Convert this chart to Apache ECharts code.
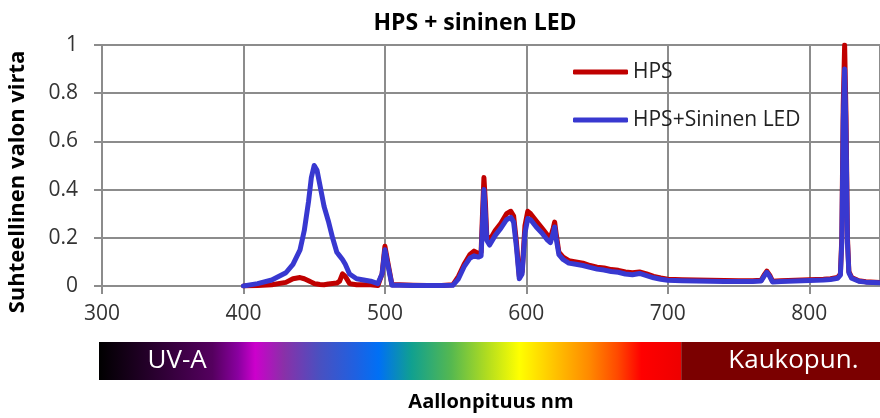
<!DOCTYPE html>
<html>
<head>
<meta charset="utf-8">
<script src="https://cdn.jsdelivr.net/npm/echarts@6/dist/echarts.min.js"></script>
<style>
  html, body { margin: 0; padding: 0; background: #fff; }
  #chart { width: 880px; height: 418px; }
</style>
</head>
<body>
<div id="chart"></div>
<script>
// Wavelengths (nm) of the sampled spectra
const wavelengths = [
  400, 410, 420, 430, 435, 440, 443, 446, 448, 450, 452, 454, 457, 460, 463, 466, 468, 470, 472, 475, 480, 485, 490, 495, 498,
  500, 502, 505, 510, 520, 530, 540, 548, 552, 556, 560, 563, 566, 568, 569, 570, 571, 572, 574, 578,
  582, 586, 589, 591, 593, 595, 597, 599, 601, 603, 607, 611, 615, 617, 619, 620, 621, 623, 626, 630,
  635, 640, 645, 650, 655, 660, 665, 670, 675, 680, 685, 690, 695, 700, 710, 720, 730, 740, 750, 760,
  766, 768, 770, 772, 774, 780, 790, 800, 810, 815, 820, 822, 823, 824, 825, 826, 827, 828, 830, 835,
  840, 850
];

// Relative photon flux, HPS lamp alone
const hps = [
  0, 0.002, 0.005, 0.015, 0.03, 0.035, 0.03, 0.022, 0.016, 0.01, 0.008, 0.006, 0.005, 0.008, 0.01, 0.012, 0.02, 0.05, 0.04, 0.01, 0.005, 0.005, 0.005, 0.002, 0.05,
  0.165, 0.1, 0.005, 0.005, 0.003, 0.002, 0.002, 0.005, 0.04, 0.09, 0.13, 0.145, 0.135, 0.14, 0.3, 0.45, 0.35, 0.21, 0.19, 0.23,
  0.26, 0.3, 0.31, 0.29, 0.18, 0.04, 0.06, 0.25, 0.31, 0.3, 0.27, 0.24, 0.21, 0.2, 0.24, 0.265, 0.22, 0.14, 0.12, 0.105,
  0.1, 0.095, 0.085, 0.078, 0.075, 0.068, 0.065, 0.058, 0.055, 0.058, 0.05, 0.04, 0.033, 0.028, 0.026, 0.025, 0.024, 0.023, 0.022, 0.022,
  0.024, 0.045, 0.062, 0.045, 0.02, 0.022, 0.024, 0.026, 0.028, 0.03, 0.035, 0.05, 0.2, 0.75, 1.0, 0.7, 0.2, 0.06, 0.035, 0.022,
  0.018, 0.015
];

// Relative photon flux, HPS lamp with blue LED
const hpsBlueLed = [
  0, 0.01, 0.025, 0.055, 0.09, 0.15, 0.23, 0.35, 0.45, 0.5, 0.48, 0.42, 0.33, 0.27, 0.2, 0.14, 0.125, 0.11, 0.09, 0.05, 0.03, 0.025, 0.02, 0.01, 0.05,
  0.15, 0.09, 0.003, 0.003, 0.002, 0.002, 0.002, 0.003, 0.03, 0.08, 0.115, 0.125, 0.12, 0.125, 0.26, 0.4, 0.3, 0.19, 0.17, 0.21,
  0.24, 0.275, 0.285, 0.265, 0.16, 0.03, 0.05, 0.22, 0.28, 0.275, 0.245, 0.22, 0.19, 0.18, 0.22, 0.245, 0.2, 0.13, 0.11, 0.095,
  0.09, 0.085, 0.077, 0.07, 0.066, 0.06, 0.057, 0.05, 0.047, 0.052, 0.043, 0.034, 0.028, 0.024, 0.022, 0.021, 0.02, 0.019, 0.019, 0.019,
  0.021, 0.04, 0.057, 0.04, 0.017, 0.019, 0.021, 0.023, 0.025, 0.027, 0.032, 0.045, 0.18, 0.68, 0.9, 0.63, 0.18, 0.055, 0.032, 0.02,
  0.016, 0.013
];

const seriesNames = ['HPS', 'HPS+Sininen LED'];

// Wavelength bands of the colour strip under the axis and their captions
const bands = [[300, 710], [710, 850]];
const bandCaptions = ['UV-A', 'Kaukopun.'];

// Colour ramp of the visible band (nm, colour)
const rampStops = [
  [300, '#000000'], [340, '#2a0030'], [380, '#55005f'], [398, '#8a00a0'], [410, '#cc00cc'],
  [430, '#8a30a8'], [455, '#4a50c0'], [480, '#2060e0'], [497, '#0070f5'], [520, '#10a090'],
  [548, '#55b850'], [573, '#b0dc20'], [596, '#ffff00'], [622, '#ffc000'], [645, '#ff8a00'],
  [665, '#ff4a00'], [682, '#ff0000'], [710, '#ee0000']
];
const farRedColor = '#7b0000';
const captionAt = [355, 789];

const FONT = '"Open Sans", "Noto Sans", sans-serif';
const GRID_COLOR = '#8c8c8c';

const chart = echarts.init(document.getElementById('chart'), null, { renderer: 'canvas' });

const toPairs = (ys) => wavelengths.map((x, i) => [x, ys[i]]);

const span = bands[0][1] - bands[0][0];
const gradientStops = rampStops.map(([nm, c]) => ({ offset: (nm - bands[0][0]) / span, color: c }));

chart.setOption({
  animation: false,
  title: {
    text: 'HPS + sininen LED',
    left: 470,
    top: 7,
    textAlign: 'center',
    textStyle: { fontFamily: FONT, fontSize: 23, fontWeight: 'bold', color: '#000' }
  },
  legend: {
    orient: 'vertical',
    left: 568,
    top: 55,
    itemWidth: 55,
    itemHeight: 5,
    itemGap: 24,
    icon: 'roundRect',
    data: seriesNames,
    textStyle: { fontFamily: FONT, fontSize: 21, color: '#222', lineHeight: 24 }
  },
  grid: [
    { left: 102, top: 45, height: 241, right: -1 },
    { left: 99, top: 342, height: 38, right: 0 }
  ],
  xAxis: [
    {
      gridIndex: 0,
      type: 'value',
      min: 300,
      max: 850,
      interval: 100,
      name: 'Aallonpituus nm',
      nameLocation: 'middle',
      nameGap: 106,
      nameTextStyle: { fontFamily: FONT, fontSize: 20, fontWeight: 'bold', color: '#000' },
      axisLine: { show: true, lineStyle: { color: GRID_COLOR, width: 2 } },
      axisTick: { show: true, length: 8, lineStyle: { color: GRID_COLOR, width: 2 } },
      axisLabel: { showMaxLabel: false, margin: 18, fontFamily: FONT, fontSize: 21, color: '#333' },
      splitLine: { show: true, lineStyle: { color: GRID_COLOR, width: 2 } }
    },
    { gridIndex: 1, type: 'value', min: 300, max: 850, show: false }
  ],
  yAxis: [
    {
      gridIndex: 0,
      type: 'value',
      min: 0,
      max: 1,
      interval: 0.2,
      axisLine: { show: true, lineStyle: { color: GRID_COLOR, width: 2 } },
      axisTick: { show: true, length: 8, lineStyle: { color: GRID_COLOR, width: 2 } },
      axisLabel: { margin: 24, fontFamily: FONT, fontSize: 21, color: '#333' },
      splitLine: { show: true, lineStyle: { color: GRID_COLOR, width: 2 } }
    },
    { gridIndex: 1, type: 'value', min: 0, max: 1, show: false }
  ],
  graphic: [
    {
      type: 'text',
      x: 18,
      y: 182,
      rotation: Math.PI / 2,
      style: {
        text: 'Suhteellinen valon virta',
        fontFamily: FONT,
        fontSize: 22,
        fontWeight: 'bold',
        fill: '#000',
        align: 'center',
        verticalAlign: 'middle'
      }
    }
  ],
  series: [
    {
      name: seriesNames[0],
      type: 'line',
      xAxisIndex: 0,
      yAxisIndex: 0,
      data: toPairs(hps),
      symbol: 'none',
      color: '#C00000',
      lineStyle: { width: 5, color: '#C00000', join: 'round', cap: 'round' },
      z: 3
    },
    {
      name: seriesNames[1],
      type: 'line',
      xAxisIndex: 0,
      yAxisIndex: 0,
      data: toPairs(hpsBlueLed),
      symbol: 'none',
      color: '#3838D0',
      lineStyle: { width: 5, color: '#3838D0', join: 'round', cap: 'round' },
      z: 4
    },
    {
      type: 'custom',
      xAxisIndex: 1,
      yAxisIndex: 1,
      silent: true,
      data: bands.map((b, i) => [b[0], b[1], i]),
      renderItem: function (params, api) {
        const i = api.value(2);
        const p0 = api.coord([api.value(0), 1]);
        const p1 = api.coord([api.value(1), 0]);
        const fill = i === 0
          ? new echarts.graphic.LinearGradient(0, 0, 1, 0, gradientStops)
          : farRedColor;
        const tp = api.coord([captionAt[i], 0.5]);
        return {
          type: 'group',
          children: [
            { type: 'rect', shape: { x: p0[0], y: p0[1], width: p1[0] - p0[0], height: p1[1] - p0[1] }, style: { fill: fill } },
            {
              type: 'text',
              x: tp[0],
              y: tp[1],
              style: {
                text: bandCaptions[i],
                fill: '#fff',
                fontFamily: FONT,
                fontSize: 26,
                align: 'center',
                verticalAlign: 'middle'
              }
            }
          ]
        };
      }
    }
  ]
});
</script>
</body>
</html>
